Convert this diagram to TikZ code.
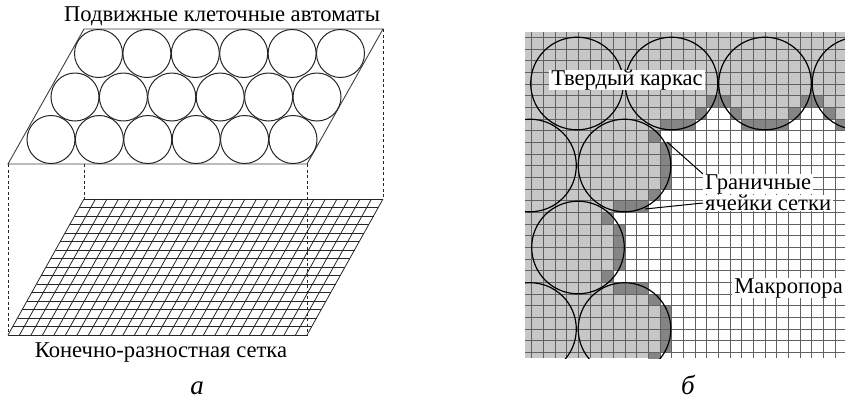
\documentclass[tikz,border=0pt]{standalone}
\usepackage{fontspec}
\setmainfont{Liberation Serif}
\usetikzlibrary{positioning, patterns, calc}
\definecolor{solidgray}{gray}{0.78}
\definecolor{edgegray}{gray}{0.52}
\definecolor{linegray}{gray}{0.38}

\begin{document}
\begin{tikzpicture}[
    x=1pt, y=-1pt,
    every node/.style={font=\fontsize{22.6}{24}\selectfont, inner sep=1pt},
    caption/.style={font=\fontsize{27}{29}\selectfont\itshape, anchor=base},
    tag/.style={fill=white, inner xsep=2pt, inner ysep=0pt},
    ball/.style={draw=black!85, line width=1pt},
    hull/.style={draw=black!75, line width=0.9pt},
    guide/.style={draw=black!85, line width=0.9pt, dash pattern=on 3pt off 2.5pt},
    mesh/.style={draw=black!85, line width=0.8pt},
    leader/.style={draw=black, line width=1pt}
]
\useasboundingbox (0,0) rectangle (845,400);

% Panel a: cellular automata layer
\draw[hull] (84,29) -- (383,29) -- (307,164) -- (8,164) -- cycle;
\foreach \k in {0,...,5} {
  \draw[ball] (98.5+48.4*\k,53.5) circle (24);
  \draw[ball] (75+48.4*\k,97) circle (24);
  \draw[ball] (51+48.4*\k,139.5) circle (24);
}
\node (top) at (222,16) {Подвижные клеточные автоматы};

% Panel a: finite-difference mesh
\foreach \i in {0,...,26}
  \draw[mesh] (84+11.5*\i,199) -- (8+11.5*\i,335);
\foreach \j in {0,...,16}
  \draw[mesh] (84-4.75*\j,199+8.5*\j) -- (383-4.75*\j,199+8.5*\j);
\draw[guide] (8,164) -- (8,335);
\draw[guide] (84,164) -- (84,199);
\draw[guide] (307,164) -- (307,335);
\draw[guide] (383,29) -- (383,199);
\node (low) at (161,352) {Конечно-разностная сетка};
\node[caption] (capa) at (197,394) {а};

% Panel b: solid frame, then pore cells (row/first col/last col)
\def\xo{531.7}
\def\yo{37.4}
\def\cell{11.67}
\begin{scope}
\clip (525,32) rectangle (845,358);
\fill[solidgray] (525,32) rectangle (845,358);
\foreach \r/\a/\b in {6/15/16, 6/23/24, 7/14/17, 7/22/25, 8/11/27, 9/12/27, 10/12/27,
    11/12/27, 12/12/27, 13/11/27, 14/10/27, 15/7/27, 16/8/27, 17/8/27, 18/8/27, 19/8/27,
    20/7/27, 21/10/27, 22/11/27, 23/12/27, 24/12/27, 25/12/27, 26/12/27, 27/11/27}
  \fill[white] (\xo+\cell*\a,\yo+\cell*\r) rectangle (\xo+\cell*\b+\cell,\yo+\cell*\r+\cell);
% boundary cells
\foreach \r/\a/\b in {5/15/16, 5/23/24, 6/14/14, 6/17/17, 6/22/22, 6/25/25, 7/11/13,
    7/18/21, 7/26/27, 8/10/10, 9/11/11, 10/11/11, 11/11/11, 12/11/11, 13/10/10, 14/7/9,
    15/6/6, 16/7/7, 17/7/7, 18/7/7, 19/7/7, 20/6/6, 21/7/9, 22/10/10, 23/11/11, 24/11/11,
    25/11/11, 26/11/11, 27/10/10}
  \fill[edgegray] (\xo+\cell*\a,\yo+\cell*\r) rectangle (\xo+\cell*\b+\cell,\yo+\cell*\r+\cell);
% mesh lines
\foreach \i in {0,...,27}
  \draw[linegray, line width=0.8pt] (\xo+\cell*\i,32) -- (\xo+\cell*\i,358);
\foreach \j in {0,...,27}
  \draw[linegray, line width=0.8pt] (525,\yo+\cell*\j) -- (845,\yo+\cell*\j);
% grains
\foreach \cx/\cy in {577/83.5, 671.5/83.5, 765/83.5, 858.5/83.5, 530/165.5, 624.5/165.5,
    578/247.5, 530/329, 624.5/329}
  \draw[draw=black, line width=1.2pt] (\cx,\cy) circle (46.3);
\end{scope}

\coordinate (hitup) at (667,142);
\coordinate (hitlow) at (645,209);
\node[tag] (frame) at (627,80) {Твердый каркас};
\node[tag, anchor=west] (gran) at (703,184) {Граничные};
\node[tag, anchor=west] (yach) at (703,203) {ячейки сетки};
\node[tag, anchor=east] (macro) at (845,288) {Макропора};
\draw[leader] (gran.north west) -- (hitup);
\draw[leader] (yach.west) -- (hitlow);
\node[caption] (capb) at (688,394) {б};
\end{tikzpicture}
\end{document}
